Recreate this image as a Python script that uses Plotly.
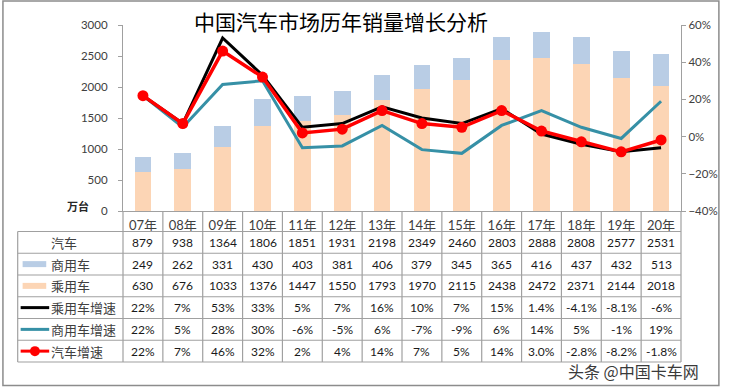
import plotly.graph_objects as go

# ---------------- data ----------------
years = ["07年", "08年", "09年", "10年", "11年", "12年", "13年",
         "14年", "15年", "16年", "17年", "18年", "19年", "20年"]
total_sales = [879, 938, 1364, 1806, 1851, 1931, 2198, 2349, 2460, 2803, 2888, 2808, 2577, 2531]
commercial = [249, 262, 331, 430, 403, 381, 406, 379, 345, 365, 416, 437, 432, 513]
passenger = [630, 676, 1033, 1376, 1447, 1550, 1793, 1970, 2115, 2438, 2472, 2371, 2144, 2018]
passenger_growth = ["22%", "7%", "53%", "33%", "5%", "7%", "16%", "10%", "7%", "15%", "1.4%", "-4.1%", "-8.1%", "-6%"]
commercial_growth = ["22%", "5%", "28%", "30%", "-6%", "-5%", "6%", "-7%", "-9%", "6%", "14%", "5%", "-1%", "19%"]
total_growth = ["22%", "7%", "46%", "32%", "2%", "4%", "14%", "7%", "5%", "14%", "3.0%", "-2.8%", "-8.2%", "-1.8%"]

title_text = "中国汽车市场历年销量增长分析"
unit_text = "万台"
row_names = ["汽车", "商用车", "乘用车", "乘用车增速", "商用车增速", "汽车增速"]
watermark_text = "头条 @中国卡车网"


def pct(vals):
    return [float(s.rstrip("%")) / 100 for s in vals]


# ---------------- style / layout helpers ----------------
W, H = 730, 387
PL, PR, PT, PB = 123, 690, 25, 211  # plot area in px
BLUE = "#B9CDE5"
PEACH = "#FCD5B5"
TEAL = "#3690A6"
RED = "#FF0000"
GRID = "#A0A0A0"
NUMFONT = "Lato, Noto Sans CJK SC, sans-serif"
CJK = "Noto Sans CJK SC, sans-serif"


def X(px):
    return (px - PL) / (PR - PL)


def Y(py):
    return (PB - py) / (PB - PT)


fig = go.Figure()
fig.add_trace(go.Bar(x=years, y=passenger, name="乘用车", marker=dict(color=PEACH, line=dict(width=0)),
                     yaxis="y"))
fig.add_trace(go.Bar(x=years, y=commercial, name="商用车", marker=dict(color=BLUE, line=dict(width=0)),
                     yaxis="y"))
fig.add_trace(go.Scatter(x=years, y=pct(commercial_growth), name="商用车增速", mode="lines",
                         line=dict(color=TEAL, width=3), yaxis="y2"))
fig.add_trace(go.Scatter(x=years, y=pct(passenger_growth), name="乘用车增速", mode="lines",
                         line=dict(color="black", width=3), yaxis="y2"))
fig.add_trace(go.Scatter(x=years, y=pct(total_growth), name="汽车增速", mode="lines+markers",
                         line=dict(color=RED, width=3.5), marker=dict(color=RED, size=11),
                         yaxis="y2"))

shapes = []
annotations = []

# table rows
row_top = 231.5
row_h = 21.75
n_rows = len(row_names)
row_bottom = row_top + n_rows * row_h
for i in range(n_rows + 1):
    yy = row_top + i * row_h
    shapes.append(dict(type="line", xref="paper", yref="paper", x0=X(16), x1=X(PR), y0=Y(yy), y1=Y(yy),
                       line=dict(color=GRID, width=1.2)))
shapes.append(dict(type="line", xref="paper", yref="paper", x0=X(16), x1=X(16), y0=Y(row_top),
                   y1=Y(row_bottom), line=dict(color=GRID, width=1.2)))
col_w = (PR - PL) / len(years)
for k in range(len(years) + 1):
    xx = PL + k * col_w
    shapes.append(dict(type="line", xref="paper", yref="paper", x0=X(xx), x1=X(xx), y0=Y(PB),
                       y1=Y(row_bottom), line=dict(color=GRID, width=1.2)))

# outer border
shapes.append(dict(type="rect", xref="paper", yref="paper", x0=X(1), x1=X(728.5), y0=Y(1), y1=Y(385.5),
                   line=dict(color="#8C8C8C", width=1.5)))

# legend swatches in table label column
centers = [row_top + (i + 0.5) * row_h for i in range(n_rows)]
shapes.append(dict(type="rect", xref="paper", yref="paper", x0=X(21), x1=X(45), y0=Y(centers[1] - 3),
                   y1=Y(centers[1] + 3), fillcolor=BLUE, line=dict(width=0)))
shapes.append(dict(type="rect", xref="paper", yref="paper", x0=X(21), x1=X(45), y0=Y(centers[2] - 3),
                   y1=Y(centers[2] + 3), fillcolor=PEACH, line=dict(width=0)))
for idx, col in [(3, "black"), (4, TEAL), (5, RED)]:
    shapes.append(dict(type="line", xref="paper", yref="paper", x0=X(19), x1=X(48), y0=Y(centers[idx]),
                       y1=Y(centers[idx]), line=dict(color=col, width=3)))
shapes.append(dict(type="circle", xref="paper", yref="paper", x0=X(28.5), x1=X(38.5), y0=Y(centers[5] - 5),
                   y1=Y(centers[5] + 5), fillcolor=RED, line=dict(width=0)))

# row labels
for i, name in enumerate(row_names):
    annotations.append(dict(text=name, xref="paper", yref="paper", x=X(48), y=Y(centers[i]),
                            xanchor="left", yanchor="middle", showarrow=False,
                            font=dict(family=CJK, size=13, color="#404040")))

# values
rows = [[str(v) for v in total_sales], [str(v) for v in commercial], [str(v) for v in passenger],
        passenger_growth, commercial_growth, total_growth]
for i, row in enumerate(rows):
    for yr, txt in zip(years, row):
        annotations.append(dict(text=txt, xref="x", yref="paper", x=yr, y=Y(centers[i]),
                                xanchor="center", yanchor="middle", showarrow=False,
                                font=dict(family=NUMFONT, size=12, color="#1a1a1a")))

# title and unit
annotations.append(dict(text=title_text, xref="paper", yref="paper", x=X(345), y=Y(21),
                        xanchor="center", yanchor="middle", showarrow=False,
                        font=dict(family=CJK, size=21, color="#000000")))
annotations.append(dict(text="<b>" + unit_text + "</b>", xref="paper", yref="paper", x=X(77), y=Y(206),
                        xanchor="center", yanchor="middle", showarrow=False,
                        font=dict(family=CJK, size=11, color="#262626")))

# watermark
annotations.append(dict(text=watermark_text, xref="paper", yref="paper", x=X(642), y=Y(371),
                        xanchor="center", yanchor="middle", showarrow=False,
                        font=dict(family=CJK, size=16, color="#3a3a3a",
                                  shadow="1px 1px 1px #fff, -1px -1px 1px #fff, 1px -1px 1px #fff, -1px 1px 1px #fff")))

fig.update_layout(
    width=W, height=H,
    margin=dict(l=PL, r=W - PR, t=PT, b=H - PB, pad=0),
    paper_bgcolor="white", plot_bgcolor="white",
    barmode="stack", bargap=0.58,
    showlegend=False,
    shapes=shapes, annotations=annotations,
    xaxis=dict(type="category", range=[-0.5, len(years) - 0.5], showline=True, linecolor=GRID,
               linewidth=1.2, ticks="", showgrid=False,
               tickfont=dict(family=NUMFONT, size=13, color="#404040"), ticklabelstandoff=2),
    yaxis=dict(range=[0, 3000], dtick=500, showline=True, linecolor=GRID, linewidth=1.2,
               ticks="outside", ticklen=4, tickcolor=GRID, showgrid=False, zeroline=False,
               tickfont=dict(family=NUMFONT, size=11.5, color="#404040"), ticklabelstandoff=8),
    yaxis2=dict(range=[-0.4, 0.6], dtick=0.2, tickformat=".0%", overlaying="y", side="right",
                showline=True, linecolor=GRID, linewidth=1.2, ticks="outside", ticklen=4,
                tickcolor=GRID, showgrid=False, zeroline=False,
                tickfont=dict(family=NUMFONT, size=11.5, color="#404040")),
)

fig.write_html("out.html", config={"displayModeBar": False},
               post_script="document.body.style.margin='0px';")
